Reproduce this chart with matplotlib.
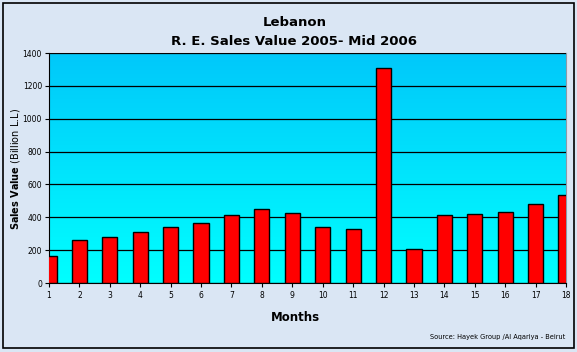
import matplotlib
matplotlib.use("Agg")
import matplotlib.pyplot as plt
import numpy as np
from matplotlib.colors import LinearSegmentedColormap
from matplotlib.patches import Rectangle

months = list(range(1, 19))
values = [164, 262, 279, 309, 339, 364, 412, 448, 424, 339, 327, 1307, 205, 412, 420, 430, 479, 534]
yticks = [0, 200, 400, 600, 800, 1000, 1200, 1400]

fig = plt.figure(figsize=(5.77, 3.52), dpi=100)
fig.patch.set_facecolor("#dae6f4")
fig.patches.append(Rectangle((0.005, 0.012), 0.989, 0.98, transform=fig.transFigure,
                             fill=False, edgecolor="black", linewidth=1.2))

ax = fig.add_axes([0.0849, 0.196, 0.8961, 0.653])

# gradient background of the plot area
cmap = LinearSegmentedColormap.from_list("bg", ["#00ffff", "#00c8fa"])
grad = np.linspace(0, 1, 256).reshape(-1, 1)
ax.imshow(grad, extent=[0, 1, 0, 1], transform=ax.transAxes, cmap=cmap,
          aspect="auto", origin="lower", zorder=0)

ax.bar(months, values, width=0.5, color="#ff0000", edgecolor="black",
       linewidth=1, zorder=3)

ax.set_xlim(1, 18)
ax.set_ylim(0, 1400)
ax.set_xticks(months)
ax.set_yticks(yticks)
ax.yaxis.grid(True, color="black", linewidth=0.9)
ax.set_axisbelow(False)
for gl in ax.get_ygridlines():
    gl.set_zorder(2)
ax.tick_params(axis="both", labelsize=5.5, length=3, direction="out", width=0.8)
ax.tick_params(axis="x", pad=3)
ax.tick_params(axis="y", pad=2)

ax.spines["left"].set_color("black")
ax.spines["bottom"].set_color("black")
ax.spines["top"].set_color("#8a9aa8")
ax.spines["right"].set_color("#8a9aa8")

fig.text(0.51, 0.935, "Lebanon", ha="center", va="center", fontsize=9.5, fontweight="bold")
fig.text(0.51, 0.881, "R. E. Sales Value 2005- Mid 2006", ha="center", va="center",
         fontsize=9.5, fontweight="bold")
fig.text(0.026, 0.52, r"$\bf{Sales\ Value}$ (Billion L.L)", rotation=90,
         ha="center", va="center", fontsize=7)
fig.text(0.512, 0.097, "Months", ha="center", va="center", fontsize=8.5, fontweight="bold")
fig.text(0.979, 0.042, "Source: Hayek Group /Al Aqariya - Beirut", ha="right", va="center",
         fontsize=4.8)

fig.savefig("out.png", dpi=100, facecolor=fig.get_facecolor())
